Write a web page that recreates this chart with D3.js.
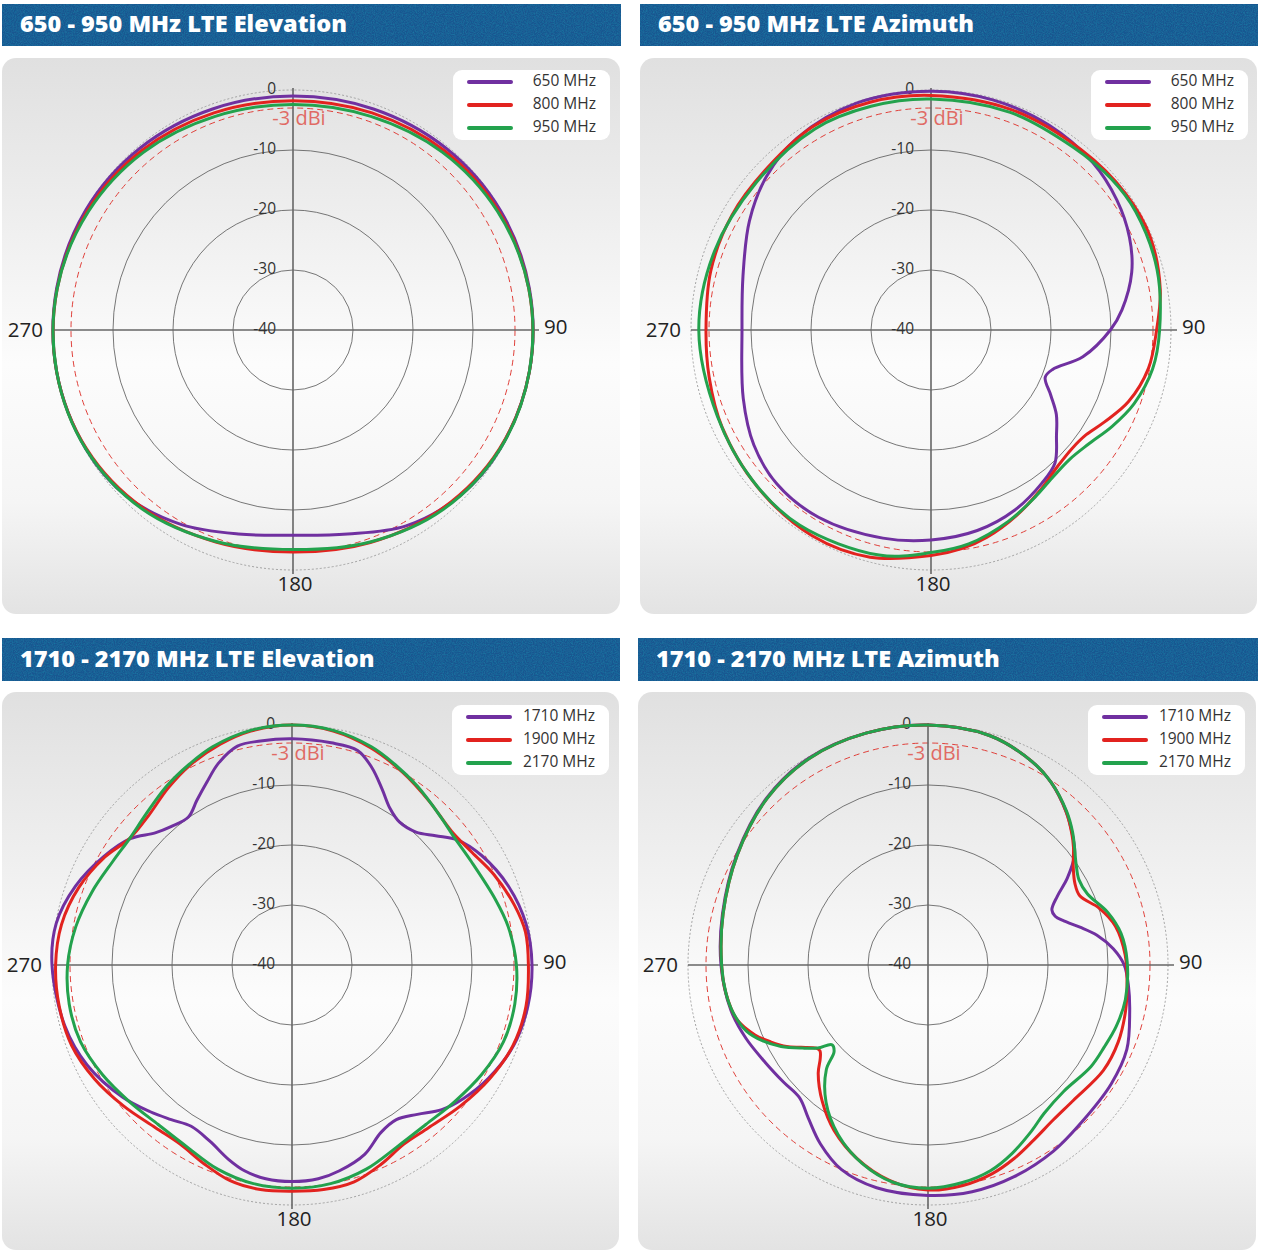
<!DOCTYPE html>
<html><head><meta charset="utf-8">
<script src="https://cdn.jsdelivr.net/npm/d3@7"></script>
<style>
body{margin:0;background:#fff;}
svg{display:block;}
</style></head><body>
<svg id="chart" width="1261" height="1255"></svg>
<script>
// ---------------- DATA ----------------
const panelTitles = [
  "650 - 950 MHz LTE Elevation",
  "650 - 950 MHz LTE Azimuth",
  "1710 - 2170 MHz LTE Elevation",
  "1710 - 2170 MHz LTE Azimuth"
];
const lowBandLabels = ["650 MHz", "800 MHz", "950 MHz"];
const highBandLabels = ["1710 MHz", "1900 MHz", "2170 MHz"];
const ringTicks = [0, -10, -20, -30, -40];
const angleTicks = ["90", "180", "270"];
const refLevel = -3;
const refLabel = "-3 dBi";

// [angle (deg, clockwise from top), gain (dBi)]
const elev650 = [[0,-1.0],[20,-0.8],[40,-0.4],[60,-0.1],[80,0],[100,0],[120,-0.2],[135,-0.8],[150,-2.3],[165,-4.8],[180,-5.8],[195,-4.8],[210,-2.6],[225,-0.8],[240,-0.2],[260,0],[280,0],[300,-0.1],[320,-0.4],[340,-0.8]];
const elev800 = [[0,-1.8],[20,-1.5],[40,-0.9],[60,-0.4],[80,-0.1],[100,0],[120,-0.3],[140,-1.2],[160,-2.3],[180,-3.0],[200,-2.4],[220,-1.2],[240,-0.3],[260,0],[280,-0.1],[300,-0.4],[320,-0.9],[340,-1.5]];
const elev950 = [[0,-2.4],[20,-2.1],[40,-1.3],[60,-0.6],[80,-0.1],[100,0],[120,-0.2],[140,-1.0],[160,-2.4],[180,-3.4],[200,-2.5],[220,-1.0],[240,-0.2],[260,0],[280,-0.1],[300,-0.6],[320,-1.3],[340,-2.1]];

const azi650 = [[0,-0.2],[15,-0.3],[30,-0.6],[44,-1.2],[55,-2.2],[65,-3.5],[74,-5.2],[84,-8],[90,-10.1],[100,-14.3],[108,-18.7],[112.5,-19.4],[118.5,-17.3],[124,-14.8],[130,-12.7],[137,-9.7],[144,-8.5],[155,-6.9],[167,-5.7],[180,-5.0],[193,-4.4],[211,-3.6],[225,-3.7],[237,-4.8],[250,-6.7],[270,-8.5],[286,-7.4],[301,-4.7],[313,-2.5],[325,-1.0],[342,-0.2]];
const azi800 = [[0,-0.9],[20,-0.9],[40,-0.9],[55,-0.4],[67,-0.3],[80,-1.2],[90,-2.4],[100,-3.2],[110,-5.0],[118,-7.3],[124,-8.8],[130,-9.3],[137,-9.0],[145,-7.8],[155,-6.0],[165,-4.2],[172,-3.2],[180,-2.4],[195,-0.8],[210,-0.4],[228,-1.0],[245,-1.6],[258,-2.2],[270,-2.5],[285,-2.0],[300,-1.7],[315,-1.6],[330,-0.8],[345,-0.7]];
const azi950 = [[0,-1.5],[20,-1.4],[38,-1.4],[50,-0.8],[60,-0.6],[75,-1.0],[90,-1.9],[100,-2.5],[110,-4.0],[118,-5.8],[126,-7.6],[133,-8.4],[140,-8.2],[148,-7.2],[158,-5.6],[170,-3.8],[180,-2.9],[193,-1.5],[214,-0.8],[230,-1.1],[248,-1.6],[270,-1.3],[290,-1.6],[310,-1.9],[330,-1.3],[345,-1.4]];

const elev1710 = [[0,-2.3],[10,-2.4],[17,-2.6],[22,-4.5],[27,-7.0],[32,-9.2],[37,-10.2],[43,-9.7],[48,-7.8],[53,-5.4],[60,-3.5],[70,-1.6],[80,-0.4],[90,0],[100,-0.1],[110,-0.7],[120,-2.2],[128,-3.8],[134,-5.3],[140,-7.5],[146,-8.9],[152,-8.4],[159,-6.2],[167,-4.8],[173,-4.1],[180,-3.9],[187,-4.1],[193,-4.8],[198,-5.9],[205,-7.6],[212,-8.3],[218,-7.3],[224,-6.0],[232,-4.2],[244,-2.0],[255,-0.8],[270,0],[280,-0.1],[290,-1.6],[300,-3.8],[308,-5.8],[314,-8.3],[319,-9.4],[325,-9.9],[330,-8.3],[335,-6.4],[340,-4.2],[346,-2.4],[352,-2.3]];
const elev1900 = [[0,0],[10,-0.4],[20,-1.5],[30,-3.0],[40,-4.4],[50,-5.3],[58,-4.6],[66,-3.1],[75,-1.6],[82,-0.7],[90,-0.6],[100,-0.4],[110,-0.8],[120,-2.0],[130,-3.4],[140,-4.6],[148,-4.8],[156,-3.6],[164,-2.4],[172,-2.2],[180,-2.3],[188,-2.2],[196,-2.6],[204,-3.8],[212,-4.8],[220,-4.6],[230,-3.4],[240,-2.0],[250,-0.9],[260,-0.6],[270,-0.6],[280,-1.0],[290,-2.2],[300,-4.0],[308,-5.7],[316,-5.5],[325,-4.0],[333,-2.6],[342,-1.3],[350,-0.4]];
const elev2170 = [[0,0],[10,-0.3],[20,-1.3],[27,-2.4],[35,-3.6],[45,-5.0],[52,-5.6],[60,-5.5],[72,-4.4],[80,-3.4],[90,-2.6],[100,-2.3],[110,-2.5],[120,-3.5],[130,-4.6],[140,-5.3],[150,-5.0],[160,-3.8],[170,-3.0],[180,-2.8],[190,-3.0],[200,-3.8],[210,-5.0],[220,-5.3],[230,-4.6],[240,-3.5],[250,-2.5],[260,-2.3],[270,-2.6],[280,-3.4],[290,-4.5],[300,-5.5],[308,-5.7],[316,-5.0],[325,-3.6],[333,-2.4],[340,-1.3],[350,-0.3]];

const azi1710 = [[0,0],[15,-0.4],[27,-1.9],[34,-3.3],[42,-5.6],[48,-7.6],[53,-9.4],[58,-12.6],[62,-15.6],[66,-17.4],[69,-17.3],[72,-16.2],[76,-13.9],[80,-11.4],[85,-9.0],[90,-7.3],[96,-6.4],[103,-5.5],[113,-4.0],[123,-3.6],[135,-3.4],[146,-2.6],[158,-1.9],[169,-1.5],[180,-1.6],[193,-1.9],[203,-3.0],[211,-5.2],[218,-7.6],[224,-9.2],[231,-9.0],[239,-8.4],[248,-7.3],[257,-6.3],[270,-5.5],[284,-4.7],[300,-3.2],[316,-1.3],[330,-0.2],[345,0]];
const azi1900 = [[0,0],[15,-0.4],[27,-1.9],[34,-3.3],[42,-5.6],[47.5,-7.5],[51,-8.8],[56,-10.8],[61,-12.0],[65.5,-12.2],[71.7,-9.9],[78.3,-8.1],[87,-7.1],[95,-6.7],[103,-6.2],[112,-5.8],[121,-5.9],[133,-6.9],[141,-6.8],[149,-5.9],[156,-4.7],[163,-3.6],[171,-2.8],[180,-2.5],[190,-3.5],[200,-5.6],[209.6,-8.3],[217.7,-11.2],[225.4,-14.3],[229,-16.2],[231.5,-17.0],[233.3,-16.8],[237,-14.8],[240,-12.8],[244,-10.8],[248,-8.9],[254,-6.9],[262,-6.0],[270,-5.6],[284,-4.8],[300,-3.3],[316,-1.4],[330,-0.3],[345,0]];
const azi2170 = [[0,0],[15,-0.4],[27,-1.9],[34,-3.3],[42,-5.5],[47.5,-7.3],[51,-8.6],[56,-10.2],[60.5,-11.1],[66,-10.9],[73.6,-8.8],[80.7,-7.4],[89,-6.8],[100,-6.6],[108,-7.0],[115,-7.6],[122,-8.0],[133,-9.1],[142,-8.6],[148,-7.4],[156,-5.6],[163,-4.2],[171,-3.3],[180,-2.8],[189,-3.3],[198.5,-5.2],[207.9,-8.0],[216.6,-11.5],[224.2,-15.7],[227.3,-18.7],[230.3,-19.2],[233,-17.0],[236.5,-14.9],[241,-12.0],[245.3,-9.7],[250,-7.8],[256,-6.6],[262,-6.0],[270,-5.6],[284,-4.8],[300,-3.3],[316,-1.4],[330,-0.3],[345,0]];

// ---------------- LAYOUT ----------------
const seriesColors = ["#7030a0", "#e2231f", "#23a24d"];
const panels = [
  {title: panelTitles[0], hx: 2, hy: 4, hw: 619, hh: 42, bx: 2, by: 58, bw: 618, bh: 556, cx: 293, cy: 330, labels: lowBandLabels, series: [elev650, elev800, elev950]},
  {title: panelTitles[1], hx: 640, hy: 4, hw: 618, hh: 42, bx: 640, by: 58, bw: 617, bh: 556, cx: 931, cy: 330, labels: lowBandLabels, series: [azi650, azi800, azi950]},
  {title: panelTitles[2], hx: 2, hy: 638, hw: 618, hh: 43, bx: 2, by: 692, bw: 617, bh: 558, cx: 292, cy: 965, labels: highBandLabels, series: [elev1710, elev1900, elev2170]},
  {title: panelTitles[3], hx: 638, hy: 638, hw: 620, hh: 43, bx: 638, by: 692, bw: 618, bh: 558, cx: 928, cy: 965, labels: highBandLabels, series: [azi1710, azi1900, azi2170]}
];

const svg = d3.select("#chart");
const defs = svg.append("defs");

// header noise texture
const f = defs.append("filter").attr("id", "noise").attr("x", 0).attr("y", 0).attr("width", "100%").attr("height", "100%");
f.append("feTurbulence").attr("type", "fractalNoise").attr("baseFrequency", 0.9).attr("numOctaves", 2).attr("seed", 4).attr("result", "t");
f.append("feColorMatrix").attr("in", "t").attr("type", "matrix")
  .attr("values", "0 0 0 0 0.01  0 0 0 0 0.18  0 0 0 0 0.36  1.8 0 0 0 -0.6");
f.append("feComposite").attr("in2", "SourceGraphic").attr("operator", "in");

const grad = defs.append("linearGradient").attr("id", "panelGrad").attr("x1", 0).attr("y1", 0).attr("x2", 0).attr("y2", 1);
grad.append("stop").attr("offset", "0%").attr("stop-color", "#e0e0e0");
grad.append("stop").attr("offset", "30%").attr("stop-color", "#efefef");
grad.append("stop").attr("offset", "55%").attr("stop-color", "#fcfcfc");
grad.append("stop").attr("offset", "80%").attr("stop-color", "#f5f5f5");
grad.append("stop").attr("offset", "100%").attr("stop-color", "#e3e3e3");

const rScale = d3.scaleLinear().domain([-40, 0]).range([0, 240]);
const line = d3.lineRadial()
  .angle(d => d[0] * Math.PI / 180)
  .radius(d => rScale(d[1]))
  .curve(d3.curveCatmullRomClosed.alpha(0.5));

panels.forEach(p => {
  const g = svg.append("g");
  // header
  g.append("rect").attr("x", p.hx).attr("y", p.hy).attr("width", p.hw).attr("height", p.hh).attr("fill", "#195690");
  g.append("rect").attr("x", p.hx).attr("y", p.hy).attr("width", p.hw).attr("height", p.hh).attr("fill", "#195690").attr("filter", "url(#noise)");
  g.append("text").attr("x", p.hx + 18).attr("y", p.hy + p.hh / 2 + 1)
    .attr("dominant-baseline", "middle")
    .style("font-family", "'Open Sans', sans-serif").style("font-weight", 800).style("font-size", "23.5px")
    .attr("fill", "#fff").text(p.title);

  // panel box
  g.append("rect").attr("x", p.bx).attr("y", p.by).attr("width", p.bw).attr("height", p.bh)
    .attr("rx", 14).attr("fill", "url(#panelGrad)");

  const c = g.append("g").attr("transform", `translate(${p.cx},${p.cy})`);

  // rings
  ringTicks.filter(t => t > -40).forEach(t => {
    c.append("circle").attr("r", rScale(t)).attr("fill", "none")
      .attr("stroke", t === 0 ? "#9a9a9a" : "#555")
      .attr("stroke-width", t === 0 ? 0.9 : 0.8)
      .attr("stroke-dasharray", t === 0 ? "2,2" : null);
  });
  // reference -3 dBi
  c.append("circle").attr("r", rScale(refLevel)).attr("fill", "none")
    .attr("stroke", "#e0403a").attr("stroke-width", 1).attr("stroke-dasharray", "6,4");

  // axes
  const R = rScale(0);
  c.append("line").attr("x1", -R).attr("x2", R + 6).attr("y1", 0).attr("y2", 0).attr("stroke", "#666").attr("stroke-width", 1.6);
  c.append("line").attr("x1", 0).attr("x2", 0).attr("y1", -R - 2).attr("y2", R + 4).attr("stroke", "#666").attr("stroke-width", 1.6);

  // ring labels
  ringTicks.forEach(t => {
    c.append("text").attr("x", -17).attr("y", -rScale(t))
      .attr("text-anchor", "end").attr("dominant-baseline", "middle")
      .style("font-family", "'Open Sans', sans-serif").style("font-size", "15.5px")
      .attr("fill", "#333").text(t);
  });
  // ref label
  c.append("text").attr("x", 6).attr("y", -210).attr("text-anchor", "middle").attr("dominant-baseline", "middle")
    .style("font-family", "'Open Sans', sans-serif").style("font-size", "20px").attr("fill", "#e06a64").text(refLabel);

  // angle labels
  const angStyle = sel => sel.style("font-family", "'Open Sans', sans-serif").style("font-size", "20.5px").attr("fill", "#222").attr("dominant-baseline", "middle");
  angStyle(c.append("text").attr("x", 251).attr("y", -1).attr("text-anchor", "start").text(angleTicks[0]));
  angStyle(c.append("text").attr("x", 2).attr("y", 256).attr("text-anchor", "middle").text(angleTicks[1]));
  angStyle(c.append("text").attr("x", -250).attr("y", 2).attr("text-anchor", "end").text(angleTicks[2]));

  // series
  p.series.forEach((s, i) => {
    c.append("path").attr("d", line(s)).attr("fill", "none")
      .attr("stroke", seriesColors[i]).attr("stroke-width", 3).attr("stroke-linejoin", "round");
  });

  // legend
  const lg = c.append("g").attr("transform", "translate(160,-260)");
  lg.append("rect").attr("width", 157).attr("height", 70).attr("rx", 9).attr("fill", "#fff");
  p.labels.forEach((lab, i) => {
    const y = 12 + i * 23;
    lg.append("line").attr("x1", 16).attr("x2", 58).attr("y1", y).attr("y2", y)
      .attr("stroke", seriesColors[i]).attr("stroke-width", 4).attr("stroke-linecap", "round");
    lg.append("text").attr("x", 143).attr("y", y).attr("text-anchor", "end").attr("dominant-baseline", "middle")
      .style("font-family", "'Open Sans', sans-serif").style("font-size", "15.5px").attr("fill", "#333").text(lab);
  });
});
</script>
</body></html>
